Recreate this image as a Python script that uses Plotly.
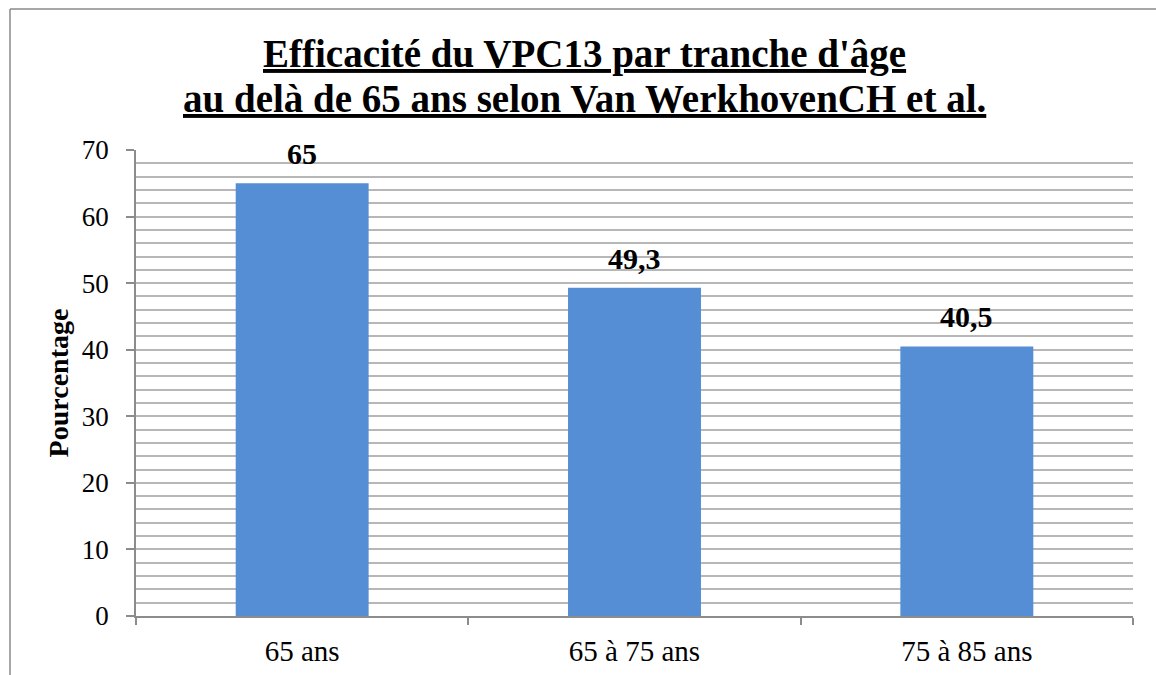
import plotly.graph_objects as go

# Data
categories = ["65 ans", "65 à 75 ans", "75 à 85 ans"]
values = [65, 49.3, 40.5]
value_labels = ["65", "49,3", "40,5"]
title_lines = [
    "Efficacité du VPC13 par tranche d'âge",
    "au delà de 65 ans selon Van WerkhovenCH et al.",
]

W, H = 1156, 675
ML, MR, MT, MB = 136, 23, 150, 59
PW = W - ML - MR
PH = H - MT - MB

serif = "Liberation Serif"
bar_color = "#558ed5"
grid_color = "#b7b7b7"
axis_color = "#8c8c8c"

fig = go.Figure(
    go.Bar(
        x=categories,
        y=values,
        marker=dict(color=bar_color, line=dict(width=0)),
        width=0.4,
        hoverinfo="skip",
    )
)

# Value labels above each bar
for c, v, t in zip(categories, values, value_labels):
    fig.add_annotation(
        x=c, y=v, text=f"<b>{t}</b>", showarrow=False,
        yanchor="bottom", yshift=11,
        font=dict(family=serif, size=30, color="#000"),
    )


def px_x(px):
    return (px - ML) / PW


def px_y(py):
    return (H - MB - py) / PH


# Two-line underlined title
for line, mid in zip(title_lines, [54, 99]):
    fig.add_annotation(
        xref="paper", yref="paper", x=px_x(584), y=px_y(mid),
        xanchor="center", yanchor="middle", showarrow=False,
        text=f"<b><u>{line}</u></b>",
        font=dict(family=serif, size=39, color="#000"),
    )

# Outer frame (left and top edges)
frame = dict(color="#8a8a8a", width=1.5)
fig.add_shape(type="line", xref="paper", yref="paper",
              x0=px_x(10), x1=px_x(10), y0=px_y(9), y1=px_y(H + 5), line=frame)
fig.add_shape(type="line", xref="paper", yref="paper",
              x0=px_x(10), x1=px_x(W + 5), y0=px_y(9), y1=px_y(9), line=frame)

fig.update_layout(
    width=W, height=H,
    margin=dict(l=ML, r=MR, t=MT, b=MB, pad=0),
    paper_bgcolor="white",
    plot_bgcolor="white",
    showlegend=False,
    font=dict(family=serif, color="#000"),
    xaxis=dict(
        showgrid=False,
        showline=True, linecolor=axis_color, linewidth=1.5,
        ticks="outside", tickson="boundaries", ticklen=7,
        tickcolor=axis_color, tickwidth=1.5,
        ticklabelstandoff=8,
        tickfont=dict(family=serif, size=29, color="#000"),
        automargin=False,
        fixedrange=True,
    ),
    yaxis=dict(
        range=[0, 70],
        dtick=10,
        showgrid=True, gridcolor=grid_color, gridwidth=1.5,
        minor=dict(dtick=2, showgrid=True, gridcolor=grid_color, gridwidth=1.5),
        showline=True, linecolor=axis_color, linewidth=1.5,
        ticks="outside", ticklen=8, tickcolor=axis_color, tickwidth=1.5,
        ticklabelstandoff=12,
        tickfont=dict(family=serif, size=27, color="#000"),
        title=dict(text="<b>Pourcentage</b>", standoff=5,
                   font=dict(family=serif, size=28, color="#000")),
        automargin=False,
        zeroline=False,
        fixedrange=True,
    ),
)

fig.write_html("out.html")
